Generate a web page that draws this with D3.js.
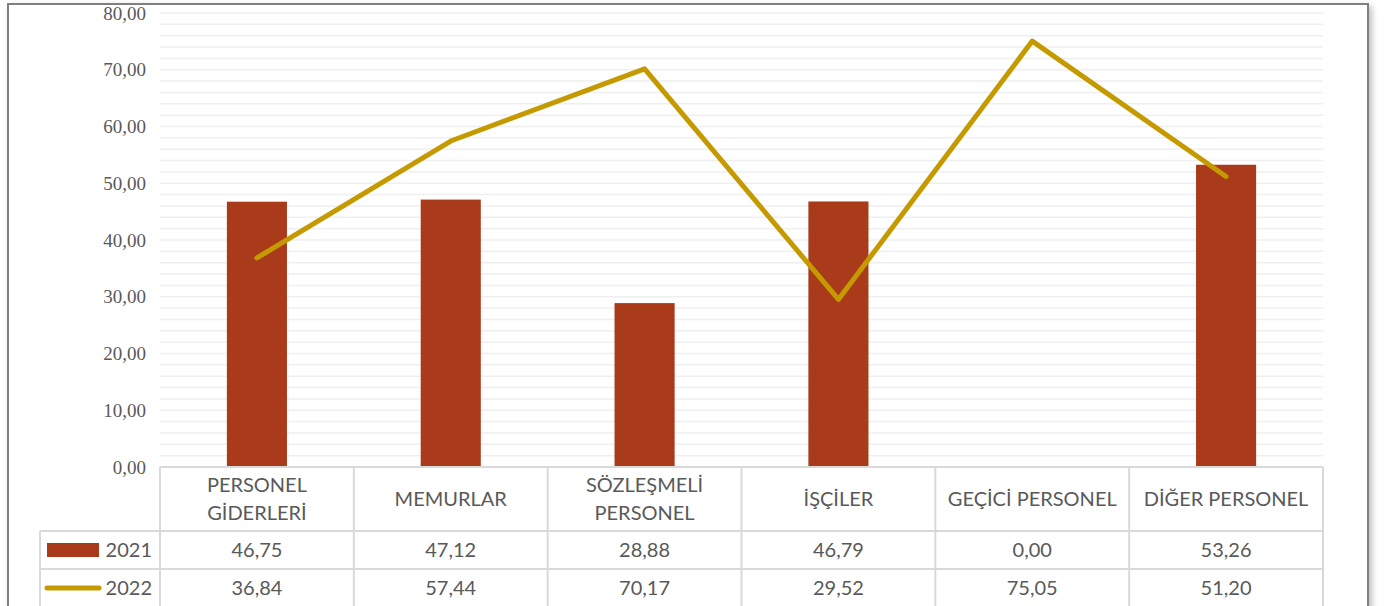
<!DOCTYPE html>
<html>
<head>
<meta charset="utf-8">
<script src="https://cdn.jsdelivr.net/npm/d3@7"></script>
<style>
  body { margin: 0; background: #fff; }
  svg { display: block; }
</style>
</head>
<body>
<div id="chart"></div>
<script>
// Data
const categories = [
  ['PERSONEL', 'GİDERLERİ'],
  ['MEMURLAR'],
  ['SÖZLEŞMELİ', 'PERSONEL'],
  ['İŞÇİLER'],
  ['GEÇİCİ PERSONEL'],
  ['DİĞER PERSONEL']
];
const seriesNames = ['2021', '2022'];
const values2021 = [46.75, 47.12, 28.88, 46.79, 0.00, 53.26];
const values2022 = [36.84, 57.44, 70.17, 29.52, 75.05, 51.20];
const yTicks = [0, 10, 20, 30, 40, 50, 60, 70, 80];

const barColor = '#A93A1A';
const lineColor = '#C59A00';
const textColor = '#595959';
const tableLine = '#D9D9D9';
const sansFont = 'Lato, "Open Sans", sans-serif';

const width = 1385, height = 606;
const plot = { left: 160, right: 1323, top: 13, bottom: 467 };
const rowTop = 531, rowH = 38;

const fmt = v => v.toFixed(2).replace('.', ',');

const svg = d3.select('#chart').append('svg')
  .attr('width', width)
  .attr('height', height);

// outer frame with a soft shadow
const defs = svg.append('defs');
const shadow = defs.append('filter').attr('id', 'shadow')
  .attr('x', '-5%').attr('y', '-5%').attr('width', '110%').attr('height', '110%');
shadow.append('feDropShadow')
  .attr('dx', 3).attr('dy', 3).attr('stdDeviation', 3)
  .attr('flood-color', '#000').attr('flood-opacity', 0.25);

svg.append('rect')
  .attr('x', 8).attr('y', 4)
  .attr('width', 1360).attr('height', 640)
  .attr('fill', '#fff')
  .attr('stroke', '#808080')
  .attr('stroke-width', 2)
  .attr('filter', 'url(#shadow)');

const x = d3.scaleBand()
  .domain(d3.range(categories.length))
  .range([plot.left, plot.right])
  .paddingInner(0.69)
  .paddingOuter(0.345);

const xBand = d3.scaleBand()
  .domain(d3.range(categories.length))
  .range([plot.left, plot.right]);

const y = d3.scaleLinear()
  .domain([0, 80])
  .range([plot.bottom, plot.top]);

// minor gridlines every 2 units
svg.append('g')
  .selectAll('line')
  .data(d3.range(2, 81, 2))
  .join('line')
  .attr('x1', plot.left).attr('x2', plot.right)
  .attr('y1', d => y(d)).attr('y2', d => y(d))
  .attr('stroke', '#EFEFEF')
  .attr('stroke-width', 1.5);

// y axis labels
const yAxis = d3.axisLeft(y)
  .tickValues(yTicks)
  .tickFormat(fmt)
  .tickSize(0)
  .tickPadding(14);

svg.append('g')
  .attr('transform', `translate(${plot.left},0)`)
  .call(yAxis)
  .call(g => g.select('.domain').remove())
  .selectAll('text')
  .attr('font-family', '"Liberation Serif", "Times New Roman", serif')
  .attr('font-size', 19)
  .attr('fill', textColor);

// bars 2021
svg.append('g')
  .selectAll('rect')
  .data(values2021)
  .join('rect')
  .attr('x', (d, i) => x(i))
  .attr('width', x.bandwidth())
  .attr('y', d => y(d))
  .attr('height', d => y(0) - y(d))
  .attr('fill', barColor);

// line 2022
const line = d3.line()
  .x((d, i) => xBand(i) + xBand.bandwidth() / 2)
  .y(d => y(d));

svg.append('path')
  .datum(values2022)
  .attr('d', line)
  .attr('fill', 'none')
  .attr('stroke', lineColor)
  .attr('stroke-width', 5)
  .attr('stroke-linejoin', 'round')
  .attr('stroke-linecap', 'round');

// data table
const table = svg.append('g')
  .attr('stroke', tableLine)
  .attr('stroke-width', 2);

// horizontal lines
table.append('line')
  .attr('x1', plot.left).attr('x2', plot.right)
  .attr('y1', plot.bottom).attr('y2', plot.bottom);
[rowTop, rowTop + rowH].forEach(yy => {
  table.append('line')
    .attr('x1', 40).attr('x2', plot.right)
    .attr('y1', yy).attr('y2', yy);
});

// vertical lines
d3.range(categories.length + 1).forEach(i => {
  const xx = i < categories.length ? xBand(i) : plot.right;
  table.append('line')
    .attr('x1', xx).attr('x2', xx)
    .attr('y1', plot.bottom).attr('y2', height);
});
table.append('line')
  .attr('x1', 40).attr('x2', 40)
  .attr('y1', rowTop).attr('y2', height);

// header labels
const headerMid = (plot.bottom + rowTop) / 2;
svg.append('g')
  .selectAll('text')
  .data(categories)
  .join('text')
  .attr('x', (d, i) => xBand(i) + xBand.bandwidth() / 2)
  .attr('y', headerMid)
  .attr('text-anchor', 'middle')
  .attr('font-family', sansFont)
  .attr('font-size', 20)
  .attr('fill', textColor)
  .each(function(d) {
    const t = d3.select(this);
    d.forEach((ln, k) => {
      t.append('tspan')
        .attr('x', t.attr('x'))
        .attr('y', headerMid + (k - (d.length - 1) / 2) * 28)
        .attr('dy', '0.35em')
        .text(ln);
    });
  });

// value rows
[values2021, values2022].forEach((vals, r) => {
  svg.append('g')
    .selectAll('text')
    .data(vals)
    .join('text')
    .attr('x', (d, i) => xBand(i) + xBand.bandwidth() / 2)
    .attr('y', rowTop + rowH * r + rowH / 2)
    .attr('dy', '0.35em')
    .attr('text-anchor', 'middle')
    .attr('font-family', sansFont)
    .attr('font-size', 20)
    .attr('fill', textColor)
    .text(fmt);
});

// legend keys in the table
const legend = svg.append('g');
legend.append('rect')
  .attr('x', 47).attr('y', rowTop + rowH / 2 - 7)
  .attr('width', 52).attr('height', 14)
  .attr('fill', barColor);
legend.append('line')
  .attr('x1', 47).attr('x2', 99)
  .attr('y1', rowTop + rowH * 1.5).attr('y2', rowTop + rowH * 1.5)
  .attr('stroke', lineColor)
  .attr('stroke-width', 5)
  .attr('stroke-linecap', 'round');
legend.selectAll('text')
  .data(seriesNames)
  .join('text')
  .attr('x', 152)
  .attr('y', (d, i) => rowTop + rowH * i + rowH / 2)
  .attr('dy', '0.35em')
  .attr('text-anchor', 'end')
  .attr('font-family', sansFont)
  .attr('font-size', 20)
  .attr('fill', textColor)
  .text(d => d);
</script>
</body>
</html>
